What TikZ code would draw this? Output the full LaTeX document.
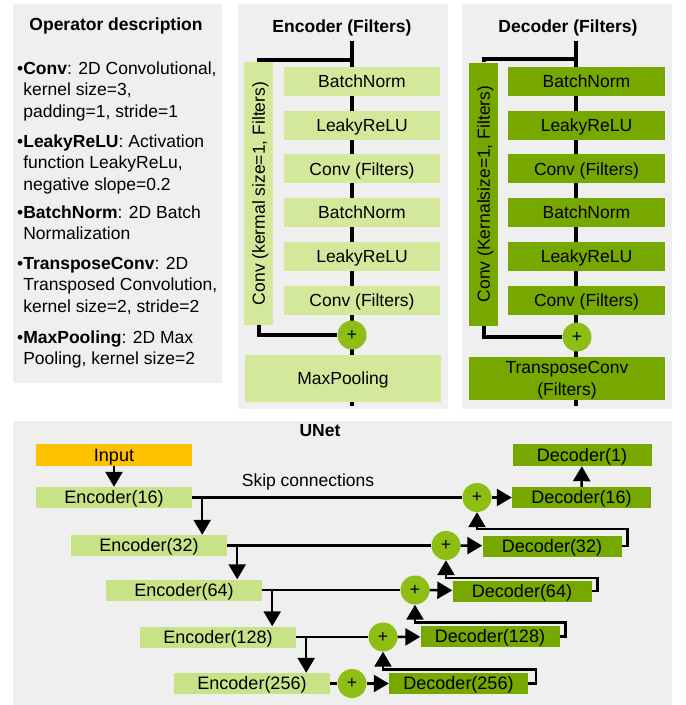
\documentclass[tikz,border=0pt]{standalone}
\usepackage{fontspec}
\setmainfont{Liberation Sans}
\usetikzlibrary{positioning,arrows.meta,backgrounds}

\definecolor{panelgray}{RGB}{239,239,239}
\definecolor{lightgreen}{RGB}{212,232,156}
\definecolor{unetgreen}{RGB}{200,226,135}
\definecolor{darkgreen}{RGB}{118,168,0}
\definecolor{plusgreen}{RGB}{140,190,20}
\definecolor{inputorange}{RGB}{255,192,0}

\newcommand{\opitem}[2]{\parbox[t]{215pt}{\setbox0\hbox{\textbullet}\hangindent=\wd0 \hangafter=1
  \textbullet\textbf{#1}: #2}}

\tikzset{
  title/.style={anchor=base, inner sep=0pt, font=\fontsize{17.5}{21.5}\selectfont\bfseries},
  desc/.style={anchor=base west, inner sep=0pt},
  block/.style={inner sep=0pt, minimum height=29pt, text height=12.6pt, text depth=0pt},
  encblock/.style={block, fill=lightgreen, minimum width=156pt},
  decblock/.style={block, fill=darkgreen, minimum width=157pt},
  sidebox/.style={block, minimum width=263pt, rotate=90},
  plus/.style={circle, fill=plusgreen, minimum size=29pt, inner sep=0pt, font=\fontsize{17.5}{17.5}\selectfont},
  spine/.style={line width=4pt},
  unetbox/.style={inner sep=0pt, minimum height=21pt, text height=12.8pt, text depth=0pt, font=\fontsize{18}{21.5}\selectfont},
  encbox/.style={unetbox, fill=unetgreen, minimum width=156pt},
  decbox/.style={unetbox, fill=darkgreen, minimum width=139pt},
  link/.style={line width=2.5pt},
}

\begin{document}
\begin{tikzpicture}[x=1pt, y=-1pt, >={Triangle[width=17pt,length=15pt]},
    font=\fontsize{17.5}{21.5}\selectfont]
  \useasboundingbox (0,0) rectangle (686,705);

  % operator description
  \node[title] (optitle) at (116,30) {Operator description};
  \node[desc] (opconv) at (17,74) {\opitem{Conv}{2D Convolutional,\newline kernel size=3,\newline padding=1, stride=1}};
  \node[desc] (opleaky) at (17,147) {\opitem{LeakyReLU}{Activation\newline function LeakyReLu,\newline negative slope=0.2}};
  \node[desc] (opbn) at (17,218) {\opitem{BatchNorm}{2D Batch\newline Normalization}};
  \node[desc] (optconv) at (17,269) {\opitem{TransposeConv}{2D\newline Transposed Convolution,\newline kernel size=2, stride=2}};
  \node[desc] (oppool) at (17,343) {\opitem{MaxPooling}{2D Max\newline Pooling, kernel size=2}};

  % encoder block
  \node[title] (enctitle) at (342,32) {Encoder (Filters)};
  \coordinate (etop) at (352,41);
  \coordinate (ebot) at (352,406);
  \coordinate (ebranch) at (352,60);
  \node[encblock] (ebna) at (362,81.5) {BatchNorm};
  \node[encblock] (elra) at (362,125.2) {LeakyReLU};
  \node[encblock] (ecva) at (362,168.9) {Conv (Filters)};
  \node[encblock] (ebnb) at (362,212.6) {BatchNorm};
  \node[encblock] (elrb) at (362,256.3) {LeakyReLU};
  \node[encblock] (ecvb) at (362,300) {Conv (Filters)};
  \node[sidebox, fill=lightgreen] (eside) at (258.5,193.5) {Conv (kermal size=1, Filters)};
  \node[plus] (eplus) at (352,335) {+};
  \node[block, fill=lightgreen, minimum width=196pt, minimum height=47pt] (epool) at (343,378.5) {MaxPooling};
  \draw[spine] (eside.east) |- (ebranch);
  \draw[spine] (eside.west) |- (eplus.west);

  % decoder block
  \node[title] (dectitle) at (568,32) {Decoder (Filters)};
  \coordinate (dtop) at (576,41);
  \coordinate (dbot) at (576,406);
  \coordinate (dbranch) at (576,59);
  \node[decblock] (dbna) at (586.5,81.5) {BatchNorm};
  \node[decblock] (dlra) at (586.5,125.2) {LeakyReLU};
  \node[decblock] (dcva) at (586.5,168.9) {Conv (Filters)};
  \node[decblock] (dbnb) at (586.5,212.6) {BatchNorm};
  \node[decblock] (dlrb) at (586.5,256.3) {LeakyReLU};
  \node[decblock] (dcvb) at (586.5,300) {Conv (Filters)};
  \node[sidebox, fill=darkgreen] (dside) at (483.5,194) {Conv (Kernalsize=1, Filters)};
  \node[plus] (dplus) at (577,337) {+};
  \node[fill=darkgreen, inner sep=0pt, minimum width=196pt, minimum height=43pt, text depth=0pt, align=center,
    font=\fontsize{17.5}{22}\selectfont] (dtconv) at (567,378.5) {TransposeConv\\(Filters)};
  \draw[spine] (dside.east) |- (dbranch);
  \draw[spine] (dside.west) |- (dplus.west);

  % unet
  \node[title] (unettitle) at (320,436) {UNet};
  \node[unetbox, fill=inputorange, minimum width=156pt, minimum height=22pt] (input) at (114,455) {Input};
  \node[encbox] (e16) at (114,497.5) {Encoder(16)};
  \node[encbox] (e32) at (149,545.5) {Encoder(32)};
  \node[encbox] (e64) at (184,590) {Encoder(64)};
  \node[encbox] (e128) at (218,637) {Encoder(128)};
  \node[encbox] (e256) at (252,683.5) {Encoder(256)};
  \node[decbox, minimum height=22pt] (d1) at (582,455) {Decoder(1)};
  \node[decbox] (d16) at (581.5,497.5) {Decoder(16)};
  \node[decbox] (d32) at (552,546) {Decoder(32)};
  \node[decbox] (d64) at (522,591) {Decoder(64)};
  \node[decbox] (d128) at (490,636.5) {Decoder(128)};
  \node[decbox] (d256) at (458.5,683.5) {Decoder(256)};
  \node[plus] (c16) at (477,497.5) {+};
  \node[plus] (c32) at (446,545.5) {+};
  \node[plus] (c64) at (415,590) {+};
  \node[plus] (c128) at (383,637) {+};
  \node[plus] (c256) at (352,683.5) {+};
  \node[anchor=base, inner sep=0pt] (skiplabel) at (308,486) {Skip connections};

  \draw[link,->] (input) -- (e16);
  \draw[link] (e16) -- (c16);
  \draw[link] (e32) -- (c32);
  \draw[link] (e64) -- (c64);
  \draw[link] (e128) -- (c128);
  \draw[link] (e256) -- (c256);
  \draw[link,->] ([xshift=10pt]e16.east) -- ([xshift=10pt]e16.east |- e32.north);
  \draw[link,->] ([xshift=10pt]e32.east) -- ([xshift=10pt]e32.east |- e64.north);
  \draw[link,->] ([xshift=10pt]e64.east) -- ([xshift=10pt]e64.east |- e128.north);
  \draw[link,->] ([xshift=10pt]e128.east) -- ([xshift=10pt]e128.east |- e256.north);
  \draw[link,->] (c16) -- (d16);
  \draw[link,->] (c32) -- (d32);
  \draw[link,->] (c64) -- (d64);
  \draw[link,->] (c128) -- (d128);
  \draw[link,->] (c256) -- (d256);
  \draw[link,->] (d256.east) -- ++(8,0) |- ([yshift=-18pt]c128.south) -- (c128.south);
  \draw[link,->] (d128.east) -- ++(6,0) |- ([yshift=-18pt]c64.south) -- (c64.south);
  \draw[link,->] (d64.east) -- ++(6,0) |- ([yshift=-18pt]c32.south) -- (c32.south);
  \draw[link,->] (d32.east) -- ++(6,0) |- ([yshift=-17pt]c16.south) -- (c16.south);
  \draw[link,->] (d16) -- (d1);

  \begin{scope}[on background layer]
    \fill[panelgray] (13,4) rectangle (222,383);
    \fill[panelgray] (238,4) rectangle (448,409);
    \fill[panelgray] (462,4) rectangle (672,409);
    \fill[panelgray] (13,421) rectangle (672,705);
    \draw[spine] (etop) -- (ebot);
    \draw[spine] (dtop) -- (dbot);
  \end{scope}
\end{tikzpicture}
\end{document}
